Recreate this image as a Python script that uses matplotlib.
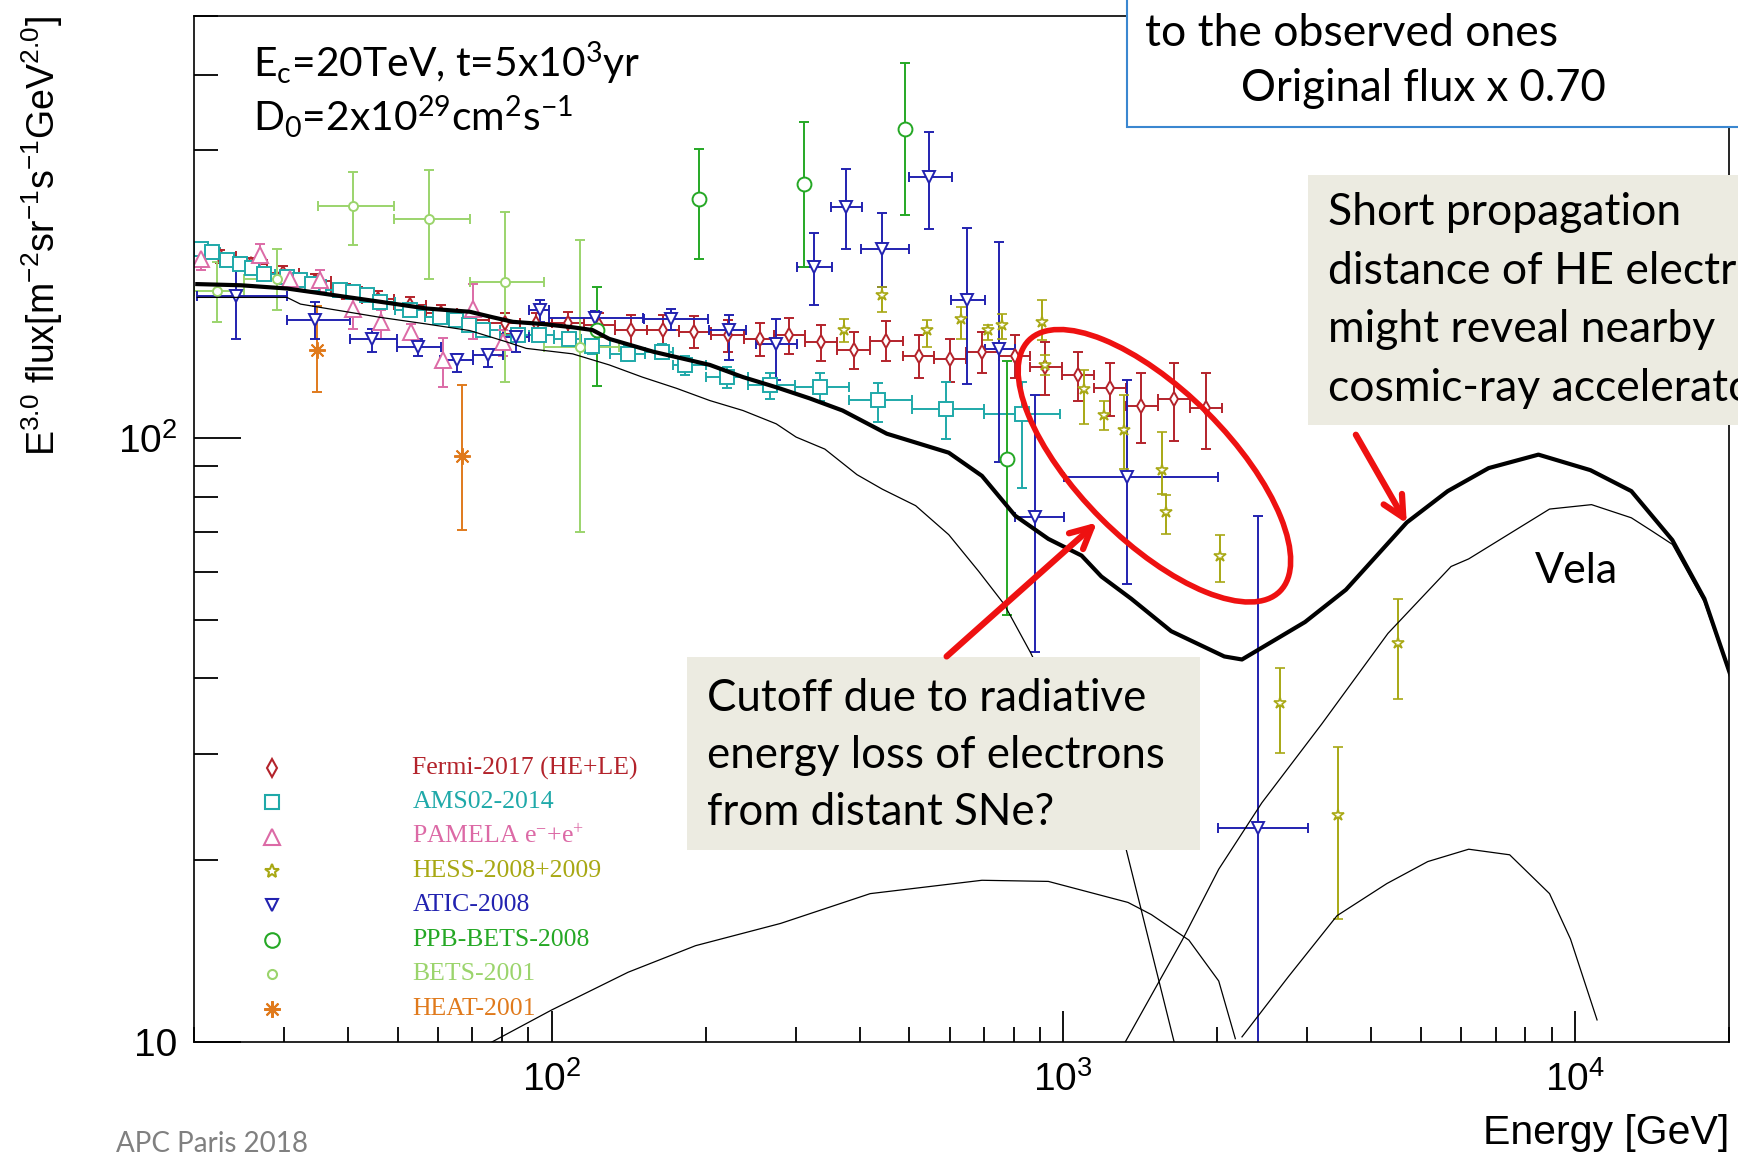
import numpy as np
import matplotlib
matplotlib.use('Agg')
import matplotlib.pyplot as plt
import matplotlib.transforms as mtransforms
from matplotlib.lines import Line2D
from matplotlib.patches import Ellipse, Rectangle, FancyArrowPatch

plt.rcParams['font.family'] = 'Liberation Sans'
plt.rcParams['mathtext.default'] = 'regular'

# ---------------- measurements: energy [GeV] and E^3 flux ----------------
# Fermi-2017 (HE+LE), contiguous bins, symmetric errors
fermi_e = [22.5, 25.9, 29.9, 34.5, 39.7, 45.8, 52.8, 60.9, 70.2, 80.9, 93.3,
           107.5, 124, 143, 165, 190, 221, 255, 291, 336, 390, 451, 522, 601,
           694, 805, 921, 1069, 1233, 1421, 1646, 1903]
fermi_f = [200, 194, 188, 182, 175, 170, 166, 161, 157, 155, 155,
           155, 154, 151, 151, 150, 148, 146, 148, 144, 140, 145, 137, 135,
           139, 137, 131, 127, 121, 113, 116, 112]
fermi_err = [5, 5, 5, 5, 5, 5, 5, 5, 5, 6, 6,
             7, 7, 9, 9, 9, 9, 9, 10, 10, 10, 11, 11, 11,
             11, 11, 13, 12, 12, 15, 17, 16]

# AMS02-2014, contiguous bins
ams_e = [20.6, 21.7, 23.2, 24.6, 26.0, 27.4, 30.4, 32.2, 34.0, 38.6, 40.9,
         43.5, 46.1, 52.8, 60.4, 65.1, 69.1, 73.4, 85.9, 94.7, 108.3, 120,
         141, 164, 182, 220, 267, 334, 434, 590, 830]
ams_f = [206, 203, 197, 194.5, 191, 187, 185, 182.5, 180, 176, 174.6,
         172.4, 168, 162.7, 158.7, 156.7, 153.7, 150.8, 148, 148, 146, 142,
         138, 139, 132, 126.2, 122.3, 121.5, 115.5, 111.8, 109.8]
ams_dn = [3, 3, 3, 3, 3, 3, 3, 3, 3, 3, 3,
          3, 3, 3, 3, 3, 3, 3, 3, 3, 3, 4,
          4, 4, 5, 5, 6, 6.5, 9, 12, 27]
ams_up = [3, 3, 3, 3, 3, 3, 3, 3, 3, 3, 3,
          3, 3, 3, 3, 3, 3, 3, 3, 3, 3, 4,
          4, 4, 5, 5, 6, 6.5, 8, 12, 14]

# PAMELA e- + e+
pamela_e = [20.6, 26.9, 30.8, 35.3, 40.9, 46.5, 53.2, 61.4, 70.2, 80.4]
pamela_f = [197.8, 201, 183.7, 182.5, 163.8, 155.9, 150.1, 134.7, 163.8, 144]
pamela_lo = [190, 189.6, 178, 174.6, 151.8, 146.2, 145.2, 121.6, 146.2, 137]
pamela_hi = [206, 209.9, 189.6, 189.6, 171.3, 162.7, 154.7, 146.7, 180.2, 151]

# HESS-2008+2009
hess_e = [373, 443, 541, 630, 713, 759, 909, 923, 1096, 1199, 1312,
          1560, 1590, 2025, 2651, 3446, 4511]
hess_f = [150.8, 172.4, 150.8, 157.7, 150.8, 153.7, 155.7, 132.0, 120.8,
          109.1, 103.0, 88.6, 75.4, 63.9, 36.4, 23.8, 45.8]
hess_lo = [144.2, 161.7, 141.5, 146.2, 145.2, 146.2, 145.2, 127.1, 105.7,
           103.0, 89.0, 80.9, 69.5, 57.8, 30.1, 16.0, 37.0]
hess_hi = [157.7, 177.9, 156.7, 164.9, 153.7, 160.7, 169.1, 137.1, 129.5,
           115.0, 117.7, 102.4, 80.4, 69.0, 41.6, 30.8, 54.1]

# ATIC-2008
atic_e = [24.2, 34.5, 44.6, 54.8, 65.2, 75.1, 85.3, 94.8, 121.3, 171.2,
          222.4, 274.4, 326, 375.6, 442.9, 546.6, 648.7, 748.2, 882, 1331, 2406]
atic_f = [171.6, 156.7, 146.2, 141.5, 134.5, 137.1, 147, 162.7, 157.8, 157.7,
          150.8, 143.4, 192, 241.4, 206, 270.6, 169.1, 140.6, 74.0, 86.2, 22.6]
atic_lo = [146.2, 146.2, 138.8, 136.7, 128.7, 131.2, 139, 155.7, 150.7, 150.8,
           134.5, 124.7, 166.4, 206, 177.9, 222.3, 123.1, 91.3, 44.2, 57.4, 9.0]
atic_hi = [198.3, 168, 151.8, 146.2, 138, 140.6, 150.7, 169.1, 162.6, 163.8,
           159.7, 157.7, 218.6, 279.2, 235.9, 321.2, 223.2, 211.3, 117.7, 124.7, 74.2]
atic_elo = [20.3, 30.4, 40.4, 49.8, 60.5, 70.2, 80.4, 90.5, 99, 151.8,
            203.4, 250.9, 302.3, 351.2, 401.9, 499, 602.1, 704.5, 806.2, 1002, 2010]
atic_ehi = [30.4, 40.4, 49.8, 60.9, 70.2, 80.4, 90.5, 99, 150.7, 201.8,
            239.7, 302.3, 352.7, 405, 499, 606.3, 704.5, 806.2, 1002, 2010, 3011]

# PPB-BETS-2008
ppb_e = [122.6, 194.4, 311, 490.5, 776]
ppb_f = [150.8, 249, 263.8, 325.3, 92.5]
ppb_lo = [122, 198.3, 192, 233.8, 50.9]
ppb_hi = [177.9, 301.6, 333.7, 418, 134.4]

# BETS-2001
bets_e = [22.2, 29.0, 40.9, 57.5, 81.0, 113.8]
bets_f = [175.2, 183.7, 242, 230.8, 181.4, 141.4]
bets_lo = [155.7, 162.7, 208.6, 183.7, 123.9, 69.8]
bets_hi = [195.7, 206, 275.7, 277.5, 236.7, 212.6]
bets_elo = [20.0, 25.0, 35.0, 49.3, 69.4, 96.5]
bets_ehi = [25.0, 35.0, 49.3, 69.4, 96.5, 135.5]

# HEAT-2001
heat_e = [34.8, 66.9]
heat_f = [139.8, 93.3]
heat_lo = [119.2, 70.4]
heat_hi = [165.7, 122.6]

# ---------------- model curves ----------------
total_e = [20.3, 24.7, 30.4, 37.5, 46.2, 57.0, 69.2, 76.8, 84.0, 96.1, 109.9,
           120.2, 129.6, 158.1, 203.8, 236.6, 274.8, 319.1, 370.4, 451.9, 597.3,
           693.5, 805.3, 935, 1086, 1187, 1358, 1625, 2064, 2235, 2968, 3568,
           4692, 5641, 6782, 8485, 10722, 12891, 15500, 17906, 20180]
total_f = [179.9, 179.1, 176.9, 172.5, 168.2, 163.9, 161.9, 158.5, 155.8, 154.5,
           152.6, 151.0, 146.0, 139.0, 132.2, 126.2, 121.4, 116.4, 111.1, 101.7,
           94.6, 86.6, 74.4, 68.1, 63.9, 59.0, 54.2, 47.9, 43.5, 43.0, 49.6, 56.1,
           72.5, 81.7, 89.2, 93.9, 88.5, 81.7, 67.8, 54.2, 40.3]

distant_e = [20.3, 30.4, 32.3, 36.4, 46.2, 57.0, 69.2, 81.5, 89.2, 109.9, 129.6,
             150.4, 175.5, 203.8, 236.6, 274.8, 300.5, 342.0, 395.2, 443.1, 514.6,
             597.3, 683.2, 766.2, 863.6, 1064, 1325, 1649]
distant_f = [171.0, 171.0, 166.7, 163.9, 158.5, 154.5, 150.7, 144.4, 140.8, 137.9,
             132.2, 126.2, 120.9, 115.4, 111.1, 105.6, 100.4, 95.9, 87.0, 82.3,
             77.3, 69.2, 60.2, 53.1, 44.1, 30.6, 20.96, 9.96]

vela_e = [1318, 1708, 2013, 2444, 3198, 4311, 5727, 6200, 8920, 10776, 12891,
          14170, 15500, 17906, 20180]
vela_f = [9.96, 14.75, 19.33, 24.9, 33.6, 47.5, 61.3, 63.1, 76.3, 77.6, 73.8,
          70.1, 66.7, 53.5, 40.0]

src1_e = [76.4, 100, 141.1, 191.1, 280.3, 419.4, 693.5, 935, 1338, 1486, 1760,
          2013, 2169]
src1_f = [10.0, 11.3, 13.05, 14.44, 15.72, 17.61, 18.53, 18.45, 17.03, 16.26,
          14.75, 12.62, 10.13]

src2_e = [2235, 2754, 3428, 4290, 5157, 6200, 7455, 8920, 9803, 11047]
src2_f = [10.2, 12.83, 16.19, 18.3, 19.9, 20.86, 20.42, 17.61, 14.81, 10.88]

legend_labels = ['Fermi-2017 (HE+LE)', 'AMS02-2014', 'PAMELA e$^{-}$+e$^{+}$',
                 'HESS-2008+2009', 'ATIC-2008', 'PPB-BETS-2008', 'BETS-2001',
                 'HEAT-2001']

c_fermi = '#b3232b'
c_ams = '#1fa9a9'
c_pamela = '#dc6aa6'
c_hess = '#a8a814'
c_atic = '#2222b0'
c_ppb = '#25a825'
c_bets = '#9bd46c'
c_heat = '#e07a1c'


def bin_edges(e):
    e = np.asarray(e, float)
    mid = np.sqrt(e[1:] * e[:-1])
    lo = np.concatenate([[e[0] ** 2 / mid[0]], mid])
    hi = np.concatenate([mid, [e[-1] ** 2 / mid[-1]]])
    return lo, hi


fig = plt.figure(figsize=(17.38, 11.59), dpi=100)
ax = fig.add_axes([0.1116, 0.1009, 0.8832, 0.8853])
ax.set_xscale('log')
ax.set_yscale('log')
ax.set_xlim(20, 20000)
ax.set_ylim(10, 500)


def points(e, f, lo, hi, color, marker, ms, elo=None, ehi=None, mew=1.4):
    e = np.asarray(e, float)
    f = np.asarray(f, float)
    yerr = [f - np.asarray(lo, float), np.asarray(hi, float) - f]
    xerr = None
    if elo is not None:
        xerr = [e - np.asarray(elo, float), np.asarray(ehi, float) - e]
    ax.errorbar(e, f, yerr=yerr, xerr=xerr, marker=marker, linestyle='none',
                color=color, ms=ms, mfc='white', mec=color, mew=mew,
                elinewidth=1.4, capsize=3.6, capthick=1.4, zorder=2)


# data sets
fe_lo, fe_hi = bin_edges(fermi_e)
points(fermi_e, fermi_f, np.subtract(fermi_f, fermi_err),
       np.add(fermi_f, fermi_err), c_fermi, 'd', 7.5, fe_lo, fe_hi)
am_lo, am_hi = bin_edges(ams_e)
points(ams_e, ams_f, np.subtract(ams_f, ams_dn), np.add(ams_f, ams_up),
       c_ams, 's', 10, am_lo, am_hi)
points(pamela_e, pamela_f, pamela_lo, pamela_hi, c_pamela, '^', 11)
points(bets_e, bets_f, bets_lo, bets_hi, c_bets, 'o', 6.5, bets_elo, bets_ehi)
points(heat_e, heat_f, heat_lo, heat_hi, c_heat, (8, 2, 0), 12)
points(atic_e, atic_f, atic_lo, atic_hi, c_atic, 'v', 9, atic_elo, atic_ehi)
points(ppb_e, ppb_f, ppb_lo, ppb_hi, c_ppb, 'o', 10)
points(hess_e, hess_f, hess_lo, hess_hi, c_hess, '*', 9, mew=1.2)

# model curves
ax.plot(distant_e, distant_f, color='black', lw=0.9, zorder=3)
ax.plot(vela_e, vela_f, color='black', lw=0.9, zorder=3)
ax.plot(src1_e, src1_f, color='black', lw=0.9, zorder=3)
ax.plot(src2_e, src2_f, color='black', lw=0.9, zorder=3)
ax.plot(total_e, total_f, color='black', lw=3.0, zorder=4)

# axes styling
for s in ax.spines.values():
    s.set_linewidth(1.2)
ax.tick_params(which='both', direction='in', top=False, right=False,
               width=1.3, colors='black')
ax.tick_params(axis='y', which='major', length=34, labelsize=28, pad=12)
ax.tick_params(axis='y', which='minor', length=17)
ax.tick_params(axis='x', which='major', length=22, labelsize=28, pad=14)
ax.tick_params(axis='x', which='minor', length=10.5)
ax.set_xticks([100, 1000, 10000])
ax.set_xticklabels(['$10^{2}$', '$10^{3}$', '$10^{4}$'])
ax.set_yticks([10, 100])
ax.set_yticklabels(['10', '$10^{2}$'])
ax.yaxis.set_minor_formatter(plt.NullFormatter())
ax.xaxis.set_minor_formatter(plt.NullFormatter())

fig.text(0.0242, 0.986,
         'E$^{3.0}$ flux[m$^{-2}$sr$^{-1}$s$^{-1}$GeV$^{2.0}$]',
         rotation=90, ha='center', va='top', fontsize=27)
fig.text(0.9948, 0.0226, 'Energy [GeV]', ha='right', va='center',
         fontsize=29.5)

# legend, drawn row by row
leg_colors = [c_fermi, c_ams, c_pamela, c_hess, c_atic, c_ppb, c_bets, c_heat]
leg_markers = ['d', 's', '^', '*', 'v', 'o', 'o', (8, 2, 0)]
leg_sizes = [9, 10, 11, 10, 9, 10.5, 6.5, 12]
for i in range(len(legend_labels)):
    y = 0.3373 - i * 0.02964
    fig.add_artist(Line2D([0.1563], [y], transform=fig.transFigure, ls='none',
                          marker=leg_markers[i], ms=leg_sizes[i],
                          mfc='white', mec=leg_colors[i], mew=1.5))
    fig.text(0.2372, y, legend_labels[i], color=leg_colors[i], va='center',
             ha='left', fontsize=18.5, family='Liberation Serif')

ann = dict(family='Lato', color='black')
fig.text(0.1455, 0.9455, 'E$_{c}$=20TeV, t=5x10$^{3}$yr', fontsize=29.3,
         va='center', **ann)
fig.text(0.1455, 0.8996, 'D$_{0}$=2x10$^{29}$cm$^{2}$s$^{-1}$', fontsize=29.3,
         va='center', **ann)

# boxes
fig.add_artist(Rectangle((0.6485, 0.890), 0.40, 0.15, transform=fig.transFigure,
                         facecolor='white', edgecolor='#3a87d0', lw=1.5,
                         zorder=5))
fig.text(0.6588, 0.971, 'to the observed ones', fontsize=32, va='center',
         zorder=6, **ann)
fig.text(0.714, 0.9235, 'Original flux x 0.70', fontsize=31.5, va='center',
         zorder=6, **ann)

fig.add_artist(Rectangle((0.7526, 0.6337), 0.30, 0.2153,
                         transform=fig.transFigure, facecolor='#ecebe1',
                         edgecolor='none', zorder=5))
for j, line in enumerate(['Short propagation', 'distance of HE electrons',
                          'might reveal nearby', 'cosmic-ray accelerators']):
    fig.text(0.764, 0.8164 - j * 0.0504, line, fontsize=32, va='center',
             zorder=6, **ann)

fig.add_artist(Rectangle((0.3953, 0.2666), 0.2953, 0.1665,
                         transform=fig.transFigure, facecolor='#ecebe1',
                         edgecolor='none', zorder=5))
for j, line in enumerate(['Cutoff due to radiative',
                          'energy loss of electrons', 'from distant SNe?']):
    fig.text(0.4069, 0.3977 - j * 0.0494, line, fontsize=31.6, va='center',
             zorder=6, **ann)

fig.text(0.8834, 0.5074, 'Vela', fontsize=31, va='center', zorder=6, **ann)
fig.text(0.0669, 0.0130, 'APC Paris 2018', fontsize=20, va='center',
         family='Lato', color='#808080')

# highlight ellipse around the high-energy Fermi points
ell = Ellipse((0, 0), width=3.55, height=1.50, angle=-45, fill=False,
              edgecolor='#ee1111', lw=4,
              transform=fig.dpi_scale_trans
              + mtransforms.ScaledTranslation(1507, 90, ax.transData),
              zorder=7)
fig.add_artist(ell)

for tail, head in [((591.6, 43.5), (1164, 72.5)),
                   ((3731, 101.3), (4692, 72.2))]:
    fig.add_artist(FancyArrowPatch(tail, head, transform=ax.transData,
                                   arrowstyle='->', mutation_scale=38,
                                   color='#ee1111', lw=4.5, zorder=7,
                                   shrinkA=0, shrinkB=0))

fig.savefig('out.png', dpi=100)
